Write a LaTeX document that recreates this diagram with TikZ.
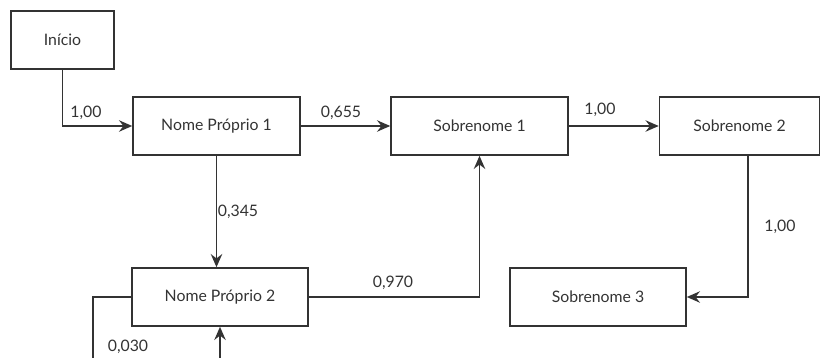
\documentclass[tikz,border=0pt]{standalone}
\usepackage{fontspec}
\setmainfont{Lato}
\usetikzlibrary{arrows.meta}
\definecolor{ink}{HTML}{333333}
\tikzset{
	estado/.style={draw=ink, line width=0.9pt, minimum width=#1, minimum height=1.16cm, inner sep=0pt, text=ink, font=\fontsize{9}{11}\selectfont},
	estado/.default=3.52cm,
	seta/.style={draw=ink, line width=0.9pt, -{Stealth[length=7.5pt, width=6.5pt, inset=2.5pt]}},
	prob/.style={text=ink, inner sep=0pt, font=\fontsize{9}{11}\selectfont}
}

\begin{document}
\begin{tikzpicture}[x=0.02cm, y=-0.02cm]
			%%%%% START %%%%%
			
			\path[use as bounding box, clip] (0, 0) rectangle (821, 358);
			
			\node[estado=2.06cm] (inicio) at (62.5, 40) {Início};
			\node[estado=3.34cm] (np1) at (216.5, 126) {Nome Próprio 1};
			\node[estado=3.54cm] (sob1) at (479.5, 126) {Sobrenome 1};
			\node[estado=3.2cm] (sob2) at (739.5, 126) {Sobrenome 2};
			\node[estado] (np2) at (220, 297) {Nome Próprio 2};
			\node[estado] (sob3) at (598, 297) {Sobrenome 3};
			
			\coordinate (laco1) at (93, 297);
			\coordinate (laco2) at (93, 390);
			\coordinate (laco3) at (220, 390);
			
			\draw[seta] (inicio.south) |- (np1.west);
			\draw[seta] (np1.east) -- (sob1.west);
			\draw[seta] (sob1.east) -- (sob2.west);
			\draw[seta] (np1.south) -- (np1.south |- np2.north);
			\draw[seta] (np2.east) -| (sob1.south);
			\draw[seta] ([xshift=0.17cm]sob2.south) |- (sob3.east);
			\draw[seta] (np2.west) -- (laco1) -- (laco2) -- (laco3) -- (np2.south);
			
			\node[prob] (p1) at (86, 113) {1,00};
			\node[prob] (p2) at (341, 113) {0,655};
			\node[prob] (p3) at (600, 110) {1,00};
			\node[prob] (p4) at (238, 212) {0,345};
			\node[prob] (p5) at (393, 283) {0,970};
			\node[prob] (p6) at (780, 227) {1,00};
			\node[prob] (p7) at (128, 347) {0,030};
			
			%%%%% END %%%%%
\end{tikzpicture}
\end{document}
